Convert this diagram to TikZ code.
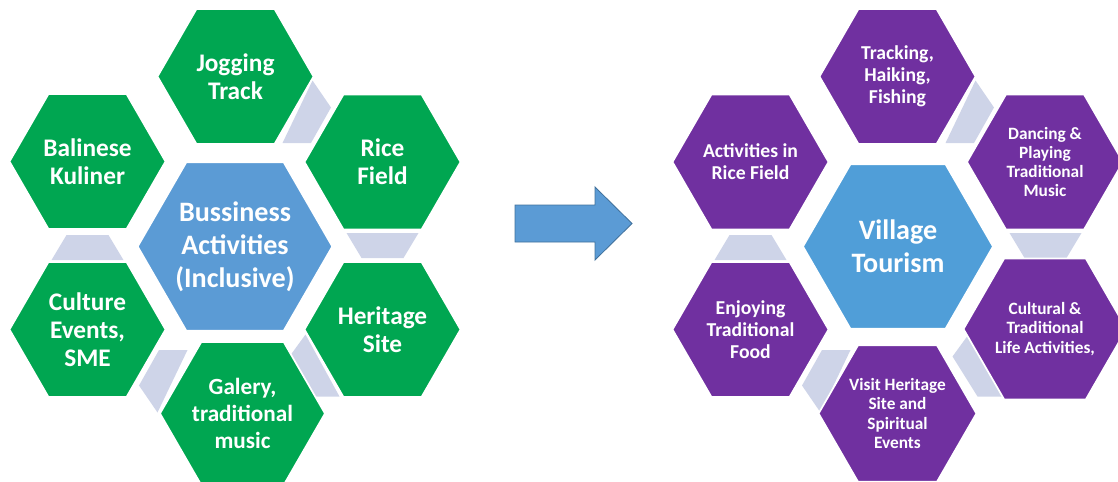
\documentclass[tikz,border=0pt]{standalone}
\usepackage{fontspec}
\setmainfont{Carlito}
\usetikzlibrary{shapes.geometric}
\definecolor{hgreen}{RGB}{0,166,81}
\definecolor{hpurple}{RGB}{112,48,160}
\definecolor{hblue}{RGB}{91,155,213}
\definecolor{hblueb}{RGB}{80,158,216}
\definecolor{hlink}{RGB}{206,212,232}
\definecolor{arrowedge}{RGB}{65,113,156}
\begin{document}
\begin{tikzpicture}[x=0.025cm,y=-0.025cm,
  hexbase/.style={regular polygon, regular polygon sides=6, draw=white, line width=1.2pt,
    inner sep=0pt, outer sep=0pt, text=white, align=center},
  outerhex/.style={hexbase, minimum size=3.9cm},
  centerhex/.style={hexbase, minimum size=4.75cm, fill=hblue, font=\bfseries\fontsize{20}{23.5}\selectfont},
  greenhex/.style={outerhex, fill=hgreen, font=\bfseries\fontsize{18}{20}\selectfont},
  greensmall/.style={greenhex, font=\bfseries\fontsize{16.5}{19}\selectfont},
  purplehex/.style={outerhex, fill=hpurple, font=\bfseries\fontsize{14}{15.5}\selectfont},
  purplesmall/.style={purplehex, font=\bfseries\fontsize{12.3}{13.7}\selectfont},
  linkshape/.style={fill=hlink, draw=none},
  blockarrow/.style={fill=hblue, draw=arrowedge, line width=0.6pt, line join=miter}]
\useasboundingbox (0,0) rectangle (1118,481);
\clip (0,0) rectangle (1118,481);

% connector bands (left cluster, then right cluster)
\foreach \cx in {235,898}{
  \begin{scope}[shift={(\cx,246.5)}]
    \fill[linkshape] (77.5,-166) -- (96,-139) -- (76,-103.5) -- (47.5,-103.5) -- cycle;
    \fill[linkshape] (111.5,-13.5) -- (183.5,-13.5) -- (168.5,11.5) -- (126.5,11.5) -- cycle;
    \fill[linkshape] (70.5,88) -- (54.5,110) -- (79.5,150) -- (104.5,150) -- cycle;
    \fill[linkshape] (-77.5,166) -- (-96,139) -- (-76,103.5) -- (-47.5,103.5) -- cycle;
    \fill[linkshape] (-111.5,13.5) -- (-183.5,13.5) -- (-168.5,-11.5) -- (-126.5,-11.5) -- cycle;
  \end{scope}
}

% left cluster
\node[greenhex] (jog) at (235.5,76.5) {Jogging\\Track};
\node[greenhex] (bal) at (87.5,161.5) {Balinese\\Kuliner};
\node[greenhex] (rice) at (382.5,162) {Rice\\Field};
\node[centerhex] (bus) at (235,246.5) {Bussiness\\Activities\\(Inclusive)};
\node[greenhex] (cul) at (87.5,329.5) {Culture\\Events,\\SME};
\node[greenhex] (her) at (382.5,329.5) {Heritage\\Site};
\node[greensmall] (gal) at (242.5,413.5) {Galery,\\traditional\\music};

% block arrow
\draw[blockarrow] (515,205) -- (595,205) -- (595,187) -- (632,223.5) -- (595,260) -- (595,242) -- (515,242) -- cycle;

% right cluster
\node[purplehex] (trk) at (897.5,76.5) {Tracking,\\Haiking,\\Fishing};
\node[purplehex] (act) at (750.5,162) {Activities in\\Rice Field};
\node[purplesmall] (dan) at (1045,162) {Dancing \&\\Playing\\Traditional\\Music};
\node[centerhex, fill=hblueb] (vil) at (898,246.5) {Village\\Tourism};
\node[purplehex] (enj) at (750.5,329.5) {Enjoying\\Traditional\\Food};
\node[purplesmall] (cult) at (1045,329) {Cultural \&\\Traditional\\Life Activities,};
\node[purplesmall] (vis) at (897.5,413.5) {Visit Heritage\\Site and\\Spiritual\\Events};
\end{tikzpicture}
\end{document}
